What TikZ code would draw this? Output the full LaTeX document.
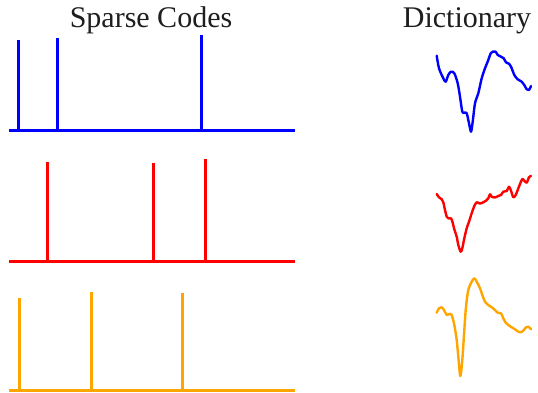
\documentclass[tikz,border=0pt]{standalone}
\usepackage{fontspec}
\setmainfont{Liberation Serif}
\definecolor{codeblue}{RGB}{0,0,255}
\definecolor{codered}{RGB}{255,0,0}
\definecolor{codeorange}{RGB}{255,165,0}
\definecolor{titlegray}{RGB}{30,30,30}
\begin{document}
\begin{tikzpicture}[x=1pt,y=-1pt,
  title/.style={font=\fontsize{30}{32}\selectfont, text=titlegray, anchor=base, inner sep=0pt},
  axis/.style={line width=2.4pt},
  spike/.style={line width=2.8pt},
  atom/.style={line width=2.4pt, line join=round, line cap=round}]
\useasboundingbox (0,0) rectangle (538,393);

% column headings
\node[title] (codes) at (151,28) {Sparse Codes};
\node[title] (dict) at (467,28) {Dictionary};

% sparse code rows: baseline plus spikes
\begin{scope}[codeblue]
  \draw[axis] (9,130.5) -- (295,130.5);
  \draw[spike] (18.3,131) -- (18.3,40);
  \draw[spike] (57.3,131) -- (57.3,38.5);
  \draw[spike] (201.7,131) -- (201.7,35.5);
\end{scope}
\begin{scope}[codered]
  \draw[axis] (9,261.5) -- (295,261.5);
  \draw[spike] (47.3,262) -- (47.3,162);
  \draw[spike] (153.3,262) -- (153.3,163);
  \draw[spike] (205.3,262) -- (205.3,159);
\end{scope}
\begin{scope}[codeorange]
  \draw[axis] (9,390.5) -- (295,390.5);
  \draw[spike] (19.3,391) -- (19.3,298);
  \draw[spike] (91.3,391) -- (91.3,292);
  \draw[spike] (182.3,391) -- (182.3,293);
\end{scope}

% dictionary atoms
\draw[atom, codeblue] plot[smooth, tension=0.5] coordinates {
  (436.7,55.7) (439,68.3) (443.3,78.3) (445.7,81.7) (448.3,75) (451,71.7)
  (454.3,73.3) (457.7,83.3) (460,96.7) (462.3,111.7) (464.3,112.7) (466.7,113.3)
  (469,123.3) (471,131.7) (472.7,121.7) (475,103.3) (478.3,93.3) (481.7,78.3)
  (485,68.3) (488.3,60) (490.7,53.3) (492.7,51.7) (495.7,51.7) (497.7,55)
  (501,56.7) (503.7,58.3) (506,62.3) (509.3,64) (511.7,68.3) (514.3,75)
  (517.7,79.3) (521.7,81.7) (524.3,85) (526.7,89.3) (529,90) (531,86)};
\draw[atom, codered] plot[smooth, tension=0.5] coordinates {
  (436.7,194) (439,197.3) (441.7,199.3) (443.3,202.3) (445,210) (446.7,216.7)
  (448.3,218.3) (451,218.3) (452.7,222.7) (454.3,229.3) (456.7,236.7) (458.3,245)
  (460.7,251.7) (462.3,248.3) (464.3,238.3) (466.7,228.3) (469,221.7) (471.7,213.3)
  (474.3,206) (476.7,202.3) (479,203.3) (481,203.3) (483.3,202.3) (486,200.7)
  (488.3,198.3) (490,194.3) (491.7,196.7) (493.3,197.3) (495.7,197.3) (498.3,196)
  (501,195) (503.3,191.7) (506.7,191) (509,186.7) (511,190.7) (513.3,197.3)
  (515.7,195) (517.7,190) (520,184) (522.3,179) (524.3,180.7) (526.7,182.7)
  (529,177.3) (531,176)};
\draw[atom, codeorange] plot[smooth, tension=0.5] coordinates {
  (436.7,312.7) (439,308.3) (441.7,307.3) (444,310) (446.7,315) (449,314)
  (451.7,315) (454.3,325) (456.7,340) (458.3,356.7) (460.3,376) (462.3,360)
  (464.3,330) (466,306.7) (468.3,290) (471.7,281.7) (474.3,278.3) (476.7,281.7)
  (480,288.3) (482.3,295) (485,301.7) (488.3,305) (491.7,307.3) (495,310)
  (497.7,312.7) (501,313.3) (503.3,318.3) (505.7,322.7) (508.3,325) (511.7,327.3)
  (515,329.3) (518.3,331.7) (521,332.3) (523.3,330.7) (526,327.3) (528.3,326.7)
  (531,329.3)};
\end{tikzpicture}
\end{document}
